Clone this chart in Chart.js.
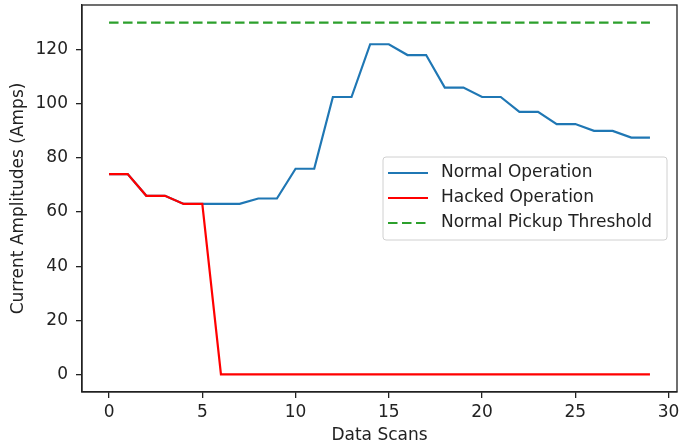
<!DOCTYPE html>
<html>
<head>
<meta charset="utf-8">
<script src="https://cdn.jsdelivr.net/npm/chart.js@4/dist/chart.umd.min.js"></script>
<style>
  html, body { margin: 0; padding: 0; background: #fff; }
  #wrap { width: 683px; height: 446px; position: relative; }
</style>
</head>
<body>
<div id="wrap"><canvas id="chart"></canvas></div>
<script>
// Current amplitudes per data scan
const scans = [0, 1, 2, 3, 4, 5, 6, 7, 8, 9, 10, 11, 12, 13, 14, 15, 16, 17, 18, 19, 20, 21, 22, 23, 24, 25, 26, 27, 28, 29];
const normalOp = [74, 74, 66, 66, 63, 63, 63, 63, 65, 65, 76, 76, 102.5, 102.5, 122, 122, 118, 118, 106, 106, 102.5, 102.5, 97, 97, 92.5, 92.5, 90, 90, 87.5, 87.5];
const hackedOp = [74, 74, 66, 66, 63, 63, 0, 0, 0, 0, 0, 0, 0, 0, 0, 0, 0, 0, 0, 0, 0, 0, 0, 0, 0, 0, 0, 0, 0, 0];
const threshold = [130, 130, 130, 130, 130, 130, 130, 130, 130, 130, 130, 130, 130, 130, 130, 130, 130, 130, 130, 130, 130, 130, 130, 130, 130, 130, 130, 130, 130, 130];
const xTicks = [0, 5, 10, 15, 20, 25, 30];
const yTicks = [0, 20, 40, 60, 80, 100, 120];

const FONT = 'DejaVu Sans';
const TEXT = '#222';
const SIZE = 17;

function points(ys) {
    return scans.map((x, i) => ({ x: x, y: ys[i] }));
}

// Frame round the plot area, like matplotlib spines
const framePlugin = {
    id: 'frame',
    afterDraw(chart) {
        const a = chart.chartArea;
        const ctx = chart.ctx;
        ctx.save();
        ctx.strokeStyle = TEXT;
        ctx.lineWidth = 1.3;
        ctx.strokeRect(a.left, a.top, a.right - a.left, a.bottom - a.top);
        ctx.restore();
    }
};

// Legend box placed at center right inside the plot
const innerLegend = {
    id: 'innerLegend',
    afterDatasetsDraw(chart) {
        const a = chart.chartArea;
        const ctx = chart.ctx;
        const w = 284, h = 83;
        const left = a.right - 10 - w;
        const top = (a.top + a.bottom) / 2 - h / 2;
        ctx.save();
        ctx.beginPath();
        ctx.roundRect(left, top, w, h, 3);
        ctx.fillStyle = 'rgba(255,255,255,0.8)';
        ctx.fill();
        ctx.strokeStyle = '#d0d0d0';
        ctx.lineWidth = 1;
        ctx.stroke();
        ctx.font = SIZE + 'px "' + FONT + '"';
        ctx.textBaseline = 'middle';
        ctx.fillStyle = TEXT;
        chart.data.datasets.forEach((ds, i) => {
            const y = top + 16 + i * 25;
            ctx.beginPath();
            ctx.setLineDash(ds.borderDash || []);
            ctx.strokeStyle = ds.borderColor;
            ctx.lineWidth = ds.borderWidth;
            ctx.moveTo(left + 5, y);
            ctx.lineTo(left + 45, y);
            ctx.stroke();
            ctx.setLineDash([]);
            ctx.fillText(ds.label, left + 58, y);
        });
        ctx.restore();
    }
};

new Chart(document.getElementById('chart'), {
    type: 'line',
    data: {
        datasets: [{
            label: 'Normal Operation',
            data: points(normalOp),
            borderColor: '#1f77b4',
            borderWidth: 2.2,
            order: 1
        }, {
            label: 'Hacked Operation',
            data: points(hackedOp),
            borderColor: '#ff0000',
            borderWidth: 2.2,
            order: 0
        }, {
            label: 'Normal Pickup Threshold',
            data: points(threshold),
            borderColor: '#2ca02c',
            borderWidth: 2.2,
            borderDash: [9.5, 4.5],
            order: 2
        }]
    },
    options: {
        responsive: true,
        maintainAspectRatio: false,
        animation: false,
        elements: {
            point: { radius: 0 },
            line: { tension: 0, fill: false }
        },
        layout: {
            padding: { top: 5, right: 6, left: 0, bottom: 0 }
        },
        scales: {
            x: {
                type: 'linear',
                min: -1.45,
                max: 30.45,
                afterBuildTicks: s => { s.ticks = xTicks.map(v => ({ value: v })); },
                afterFit: s => { s.height = 54; s.paddingLeft = 0; s.paddingRight = 0; },
                grid: { display: true, drawOnChartArea: false, drawTicks: true, tickLength: 6, color: TEXT, lineWidth: 1.3 },
                border: { display: true, color: TEXT, width: 1.3 },
                ticks: { color: TEXT, font: { family: FONT, size: SIZE }, padding: 4, maxRotation: 0, autoSkip: false },
                title: { display: true, text: 'Data Scans', color: TEXT, font: { family: FONT, size: SIZE }, padding: { top: 0, bottom: 0 } }
            },
            y: {
                type: 'linear',
                min: -6.5,
                max: 136.5,
                afterBuildTicks: s => { s.ticks = yTicks.map(v => ({ value: v })); },
                afterFit: s => { s.width = 82; s.paddingTop = 0; s.paddingBottom = 0; },
                grid: { display: true, drawOnChartArea: false, drawTicks: true, tickLength: 6, color: TEXT, lineWidth: 1.3 },
                border: { display: true, color: TEXT, width: 1.3 },
                ticks: { color: TEXT, font: { family: FONT, size: SIZE }, padding: 8, autoSkip: false },
                title: { display: true, text: 'Current Amplitudes (Amps)', color: TEXT, font: { family: FONT, size: SIZE }, padding: { top: 8, bottom: 0 } }
            }
        },
        plugins: {
            legend: { display: false },
            tooltip: { enabled: true }
        }
    },
    plugins: [framePlugin, innerLegend]
});
</script>
</body>
</html>
